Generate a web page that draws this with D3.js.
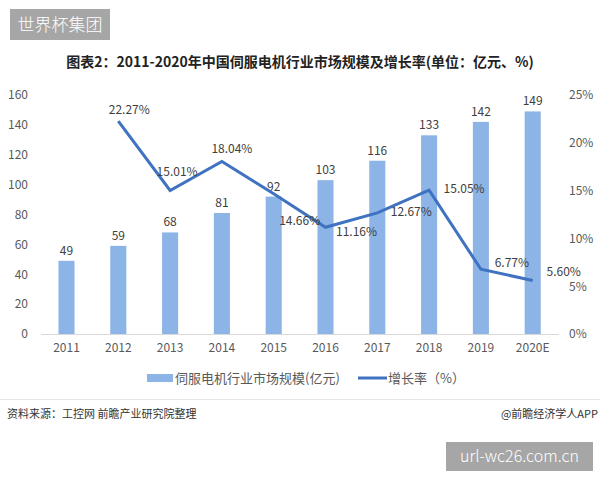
<!DOCTYPE html>
<html><head><meta charset="utf-8">
<script src="https://cdn.jsdelivr.net/npm/d3@7"></script>
<style>body{margin:0;background:#fff}svg{display:block}</style>
</head><body>
<svg id="c" width="600" height="480"></svg>
<script>
const categories = ["2011","2012","2013","2014","2015","2016","2017","2018","2019","2020E"];
const marketSize = [49,59,68,81,92,103,116,133,142,149];
const growthRate = [null,22.27,15.01,18.04,14.66,11.16,12.67,15.05,6.77,5.60];
const leftTicks = [0,20,40,60,80,100,120,140,160];
const rightTicks = [0,5,10,15,20,25];
// label offsets (dx, dy) relative to the point
const rateLabelOffsets = [null,[11,-10],[7,-18],[10,-12],[26,28],[31,5],[34,0],[35,0],[31,-6],[31,-8]];

const svg = d3.select("#c");
const font = "'Noto Sans CJK SC','Microsoft YaHei',sans-serif";

// top-left badge
svg.append("rect").attr("x",10).attr("y",9).attr("width",100).attr("height",31).attr("fill","#a6a6a6");
svg.append("text").attr("x",60).attr("y",31).attr("text-anchor","middle").attr("fill","#fff")
  .attr("font-family",font).attr("font-size",17).attr("font-weight",300).text("世界杯集团");

// title
svg.append("text").attr("x",300).attr("y",67).attr("text-anchor","middle").attr("fill","#222")
  .attr("font-family",font).attr("font-size",14).attr("font-weight","bold")
  .text("图表2：2011-2020年中国伺服电机行业市场规模及增长率(单位：亿元、%)");

const x = d3.scaleBand().domain(categories).range([40.6,558.6]).paddingInner(0.69).paddingOuter(0.345);
const yL = d3.scaleLinear().domain([0,160]).range([334,95]);
const yR = d3.scaleLinear().domain([0,25]).range([334,95]);

// baseline
svg.append("line").attr("x1",41).attr("x2",559).attr("y1",334.5).attr("y2",334.5).attr("stroke","#d9d9d9");

// left axis
const axL = svg.append("g").attr("transform","translate(28,0)")
  .call(d3.axisLeft(yL).tickValues(leftTicks).tickSize(0).tickPadding(0));
axL.select(".domain").remove();
axL.selectAll("text").attr("font-family",font).attr("font-size",12).attr("fill","#595959");

// right axis
const axR = svg.append("g").attr("transform","translate(569,0)")
  .call(d3.axisRight(yR).tickValues(rightTicks).tickFormat(d=>d+"%").tickSize(0).tickPadding(0));
axR.select(".domain").remove();
axR.selectAll("text").attr("font-family",font).attr("font-size",12).attr("fill","#595959");

// bottom axis
const axB = svg.append("g").attr("transform","translate(0,341)")
  .call(d3.axisBottom(x).tickSize(0).tickPadding(0));
axB.select(".domain").remove();
axB.selectAll("text").attr("font-family",font).attr("font-size",12).attr("fill","#595959").attr("dy","0.9em");

// bars
svg.append("g").selectAll("rect").data(marketSize).join("rect")
  .attr("x",(d,i)=>x(categories[i])).attr("width",x.bandwidth())
  .attr("y",d=>yL(d)).attr("height",d=>yL(0)-yL(d)).attr("fill","#8db4e6");
svg.append("g").selectAll("text").data(marketSize).join("text")
  .attr("x",(d,i)=>x(categories[i])+x.bandwidth()/2).attr("y",d=>yL(d)-6)
  .attr("text-anchor","middle").attr("font-family",font).attr("font-size",12).attr("fill","#404040")
  .text(d=>d);

// line
const pts = growthRate.map((v,i)=>({v,i})).filter(p=>p.v!=null);
const cx = i=>x(categories[i])+x.bandwidth()/2;
svg.append("path").datum(pts)
  .attr("d",d3.line().x(p=>cx(p.i)).y(p=>yR(p.v)))
  .attr("fill","none").attr("stroke","#3f72c0").attr("stroke-width",3).attr("stroke-linejoin","miter");
svg.append("g").selectAll("text").data(pts).join("text")
  .attr("x",p=>cx(p.i)+rateLabelOffsets[p.i][0]).attr("y",p=>yR(p.v)+rateLabelOffsets[p.i][1])
  .attr("text-anchor","middle").attr("dominant-baseline","middle")
  .attr("font-family",font).attr("font-size",12).attr("fill","#404040")
  .text(p=>p.v.toFixed(2)+"%");

// legend
svg.append("rect").attr("x",147).attr("y",374).attr("width",26).attr("height",8).attr("fill","#8db4e6");
svg.append("text").attr("x",175).attr("y",383).attr("font-family",font).attr("font-size",13).attr("fill","#595959")
  .text("伺服电机行业市场规模(亿元)");
svg.append("line").attr("x1",358).attr("x2",387).attr("y1",378).attr("y2",378).attr("stroke","#3f72c0").attr("stroke-width",3);
svg.append("text").attr("x",388).attr("y",383).attr("font-family",font).attr("font-size",13).attr("fill","#595959")
  .text("增长率（%）");

// divider
svg.append("line").attr("x1",0).attr("x2",600).attr("y1",399.5).attr("y2",399.5).attr("stroke","#e6e6e6");

// source
svg.append("text").attr("x",7).attr("y",418).attr("font-family",font).attr("font-size",11).attr("fill","#333")
  .text("资料来源：工控网 前瞻产业研究院整理");
svg.append("text").attr("x",598).attr("y",418).attr("text-anchor","end").attr("font-family",font).attr("font-size",11).attr("fill","#333")
  .text("@前瞻经济学人APP");

// bottom-right badge
svg.append("rect").attr("x",446).attr("y",442).attr("width",147).attr("height",29).attr("fill","#a6a6a6");
svg.append("text").attr("x",519.5).attr("y",462).attr("text-anchor","middle").attr("fill","#fff")
  .attr("font-family",font).attr("font-size",16).attr("font-weight",300).text("url-wc26.com.cn");
</script>
</body></html>
